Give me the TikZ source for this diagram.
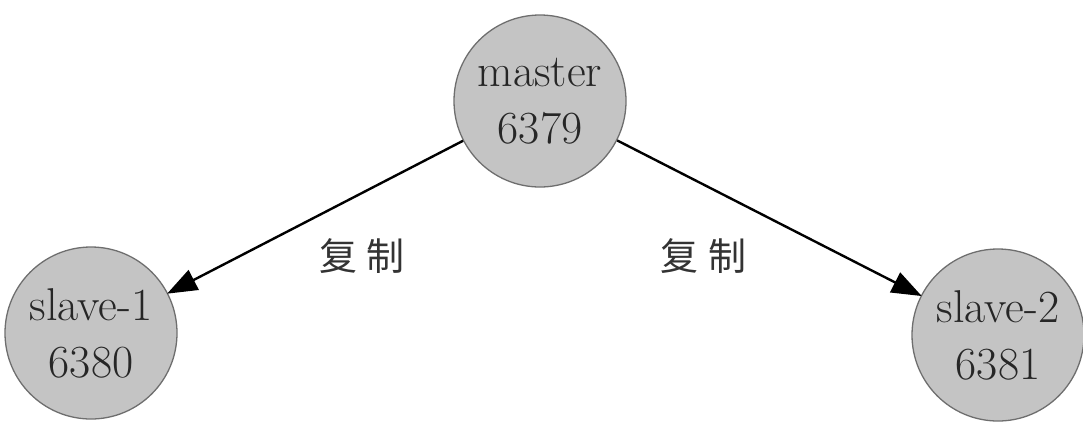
\documentclass[tikz,border=0pt]{standalone}
\usepackage{fontspec}
\newfontfamily\cjk{Noto Sans CJK SC}
\usetikzlibrary{arrows.meta}
\definecolor{nodefill}{HTML}{C4C4C4}
\definecolor{nodeline}{HTML}{6E6E6E}
\tikzset{
  srv/.style={circle, draw=nodeline, line width=1.3pt, fill=nodefill, minimum size=172pt, inner sep=0pt,
    align=center, font=\fontsize{46}{57}\selectfont, text=black!85},
  repl/.style={line width=2.4pt, -{Triangle[length=30pt,width=22pt]}, shorten >=-1pt},
  lbl/.style={font=\cjk\fontsize{38}{40}\selectfont, text=black!80}
}
\begin{document}
\begin{tikzpicture}[x=1pt,y=-1pt]
\useasboundingbox (0,0) rectangle (1083,421);
\node[srv] (master) at (540,101) {master\\6379};
\node[srv] (s1) at (91,333) {slave-1\\6380};
\node[srv] (s2) at (998,335) {slave-2\\6381};
\draw[repl] (master) -- (s1);
\draw[repl] (master) -- (s2);
\node[lbl] (l1) at (362,256) {复\hspace{10pt}制};
\node[lbl] (l2) at (703,256) {复\hspace{10pt}制};
\end{tikzpicture}
\end{document}
